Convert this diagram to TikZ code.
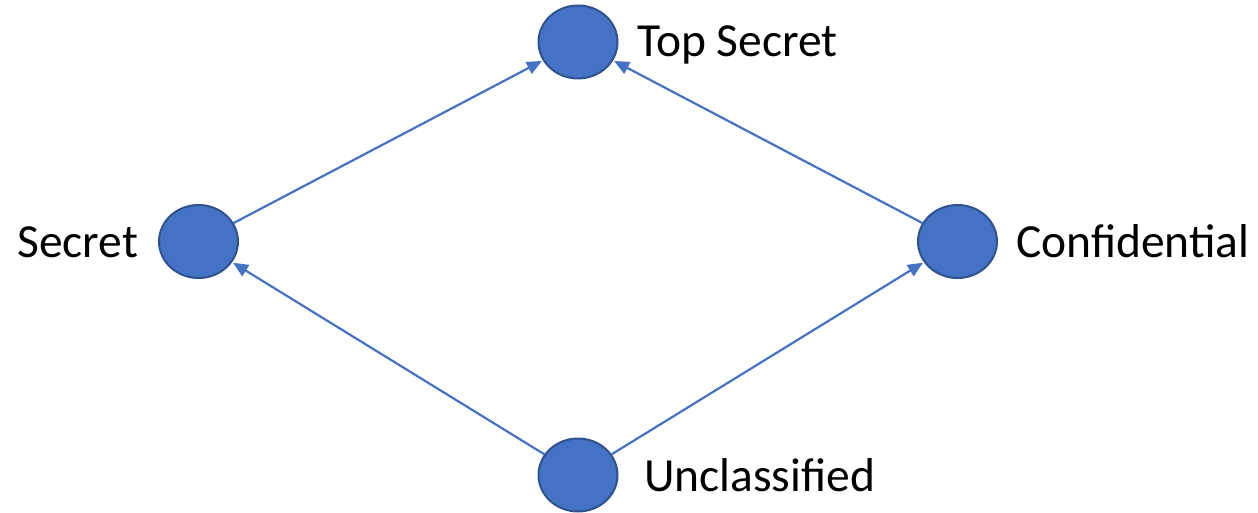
\documentclass[tikz,border=0pt]{standalone}
\usepackage{fontspec}
\setmainfont{Carlito}
\usetikzlibrary{shapes.geometric,arrows.meta}
\definecolor{levelfill}{HTML}{4472C4}
\definecolor{leveledge}{HTML}{2F528F}
\tikzset{
  level/.style={ellipse, draw=leveledge, fill=levelfill, line width=2pt,
    minimum width=79pt, minimum height=73pt, inner sep=0pt},
  lbl/.style={anchor=base west, inner sep=0pt, font=\fontsize{47.5}{57}\selectfont},
  flow/.style={draw=levelfill, line width=2.2pt,
    -{Triangle[length=15pt,width=13pt]}, shorten >=1pt}
}
\begin{document}
\begin{tikzpicture}[x=1pt,y=-1pt]
\useasboundingbox (0,0) rectangle (1258,513);
% security levels
\node[level] (top)  at (578,42)    {};
\node[level] (sec)  at (198.5,241.5) {};
\node[level] (conf) at (957.5,241.5) {};
\node[level] (unc)  at (578,475)   {};
% labels
\node[lbl] (ltop)  at (637,57)  {Top Secret};
\node[lbl] (lsec)  at (17,257)  {Secret};
\node[lbl] (lconf) at (1016,257) {Confidential};
\node[lbl] (lunc)  at (644,491) {Unclassified};
% information flow
\draw[flow] (sec) -- (top);
\draw[flow] (conf) -- (top);
\draw[flow] (unc) -- (sec);
\draw[flow] (unc) -- (conf);
\end{tikzpicture}
\end{document}
